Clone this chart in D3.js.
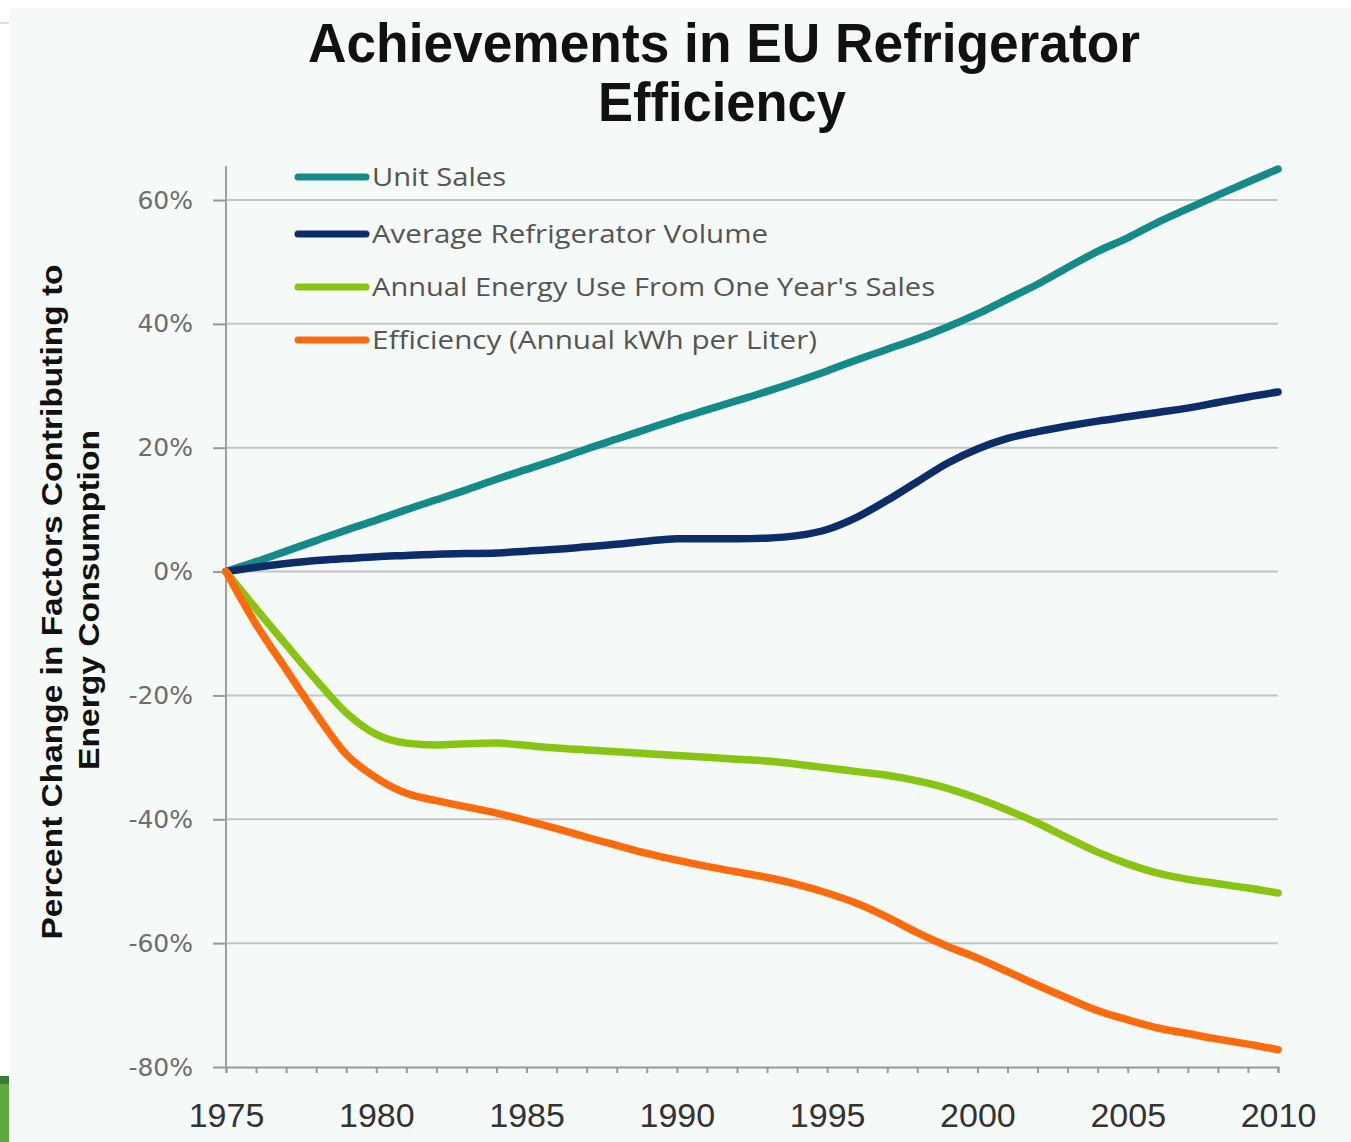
<!DOCTYPE html>
<html>
<head>
<meta charset="utf-8">
<script src="https://cdn.jsdelivr.net/npm/d3@7"></script>
<style>
  html, body { margin: 0; padding: 0; background: #fff; }
  svg { display: block; }
</style>
</head>
<body>
<svg id="chart" width="1351" height="1142"></svg>
<script>
// Data (percent change vs. 1975)
const years = d3.range(1975, 2011);
const unitSales = [0, 1.6, 3.3, 5.0, 6.7, 8.3, 10.0, 11.6, 13.2, 14.9, 16.5, 18.1, 19.8, 21.4, 23.0, 24.6, 26.1, 27.6, 29.1, 30.7,
  32.4, 34.2, 35.9, 37.6, 39.5, 41.6, 44.0, 46.4, 49.1, 51.7, 53.9, 56.4, 58.6, 60.8, 62.9, 65.0];
const avgVolume = [0, 0.7, 1.3, 1.8, 2.1, 2.4, 2.6, 2.8, 2.9, 3.0, 3.3, 3.6, 4.0, 4.4, 4.9, 5.3, 5.3, 5.3, 5.4, 5.8,
  6.8, 8.8, 11.5, 14.5, 17.5, 19.8, 21.5, 22.6, 23.5, 24.3, 25.0, 25.7, 26.4, 27.3, 28.2, 29.0];
const energyUse = [0, -6.0, -11.8, -17.5, -22.8, -26.3, -27.7, -28.0, -27.8, -27.7, -28.1, -28.5, -28.8, -29.1, -29.4, -29.7, -30.0, -30.3, -30.6, -31.1,
  -31.7, -32.3, -32.9, -33.8, -35.0, -36.6, -38.5, -40.6, -43.0, -45.3, -47.2, -48.7, -49.7, -50.4, -51.1, -51.9];
const efficiency = [0, -8.5, -15.8, -23.0, -29.5, -33.3, -35.8, -37.0, -38.0, -39.0, -40.2, -41.5, -42.9, -44.2, -45.5, -46.6, -47.6, -48.5, -49.4, -50.5,
  -51.9, -53.6, -55.8, -58.3, -60.5, -62.4, -64.6, -66.8, -68.9, -70.9, -72.4, -73.7, -74.6, -75.5, -76.3, -77.2];

const seriesNames = ["Unit Sales", "Average Refrigerator Volume", "Annual Energy Use From One Year's Sales", "Efficiency (Annual kWh per Liter)"];
const seriesColors = ["#148b88", "#0c2c6a", "#88c512", "#ff6a0d"];
const seriesValues = [unitSales, avgVolume, energyUse, efficiency];
const yTicks = [-80, -60, -40, -20, 0, 20, 40, 60];
const xLabelYears = [1975, 1980, 1985, 1990, 1995, 2000, 2005, 2010];

const svg = d3.select("#chart");

// page decorations around the slide
svg.append("rect").attr("x", 9).attr("y", 8).attr("width", 1342).attr("height", 1134).attr("fill", "#f5f9f7");
svg.append("line").attr("x1", 0).attr("x2", 9).attr("y1", 23).attr("y2", 23).attr("stroke", "#bbb").attr("stroke-width", 1);
svg.append("rect").attr("x", 0).attr("y", 1076).attr("width", 9).attr("height", 66).attr("fill", "#5ea83f");
svg.append("rect").attr("x", 0).attr("y", 1076).attr("width", 9).attr("height", 8).attr("fill", "#3d7a3a");

const x = d3.scaleLinear().domain([1975, 2010]).range([226, 1278]);
const y = d3.scaleLinear().domain([-80, 60]).range([1067, 200]);

// gridlines
svg.append("g")
  .selectAll("line")
  .data(yTicks.filter(d => d > -80))
  .join("line")
  .attr("x1", x(1975)).attr("x2", x(2010))
  .attr("y1", d => y(d)).attr("y2", d => y(d))
  .attr("stroke", "#c4c6c5").attr("stroke-width", 2);

// y axis
const yAxis = d3.axisLeft(y).tickValues(yTicks).tickSize(13).tickPadding(20).tickFormat(d => d + "%");
const gy = svg.append("g").attr("transform", `translate(${x(1975)},0)`).call(yAxis);
gy.select(".domain").remove();
gy.selectAll(".tick line").attr("stroke", "#999").attr("stroke-width", 2);
gy.selectAll("text")
  .attr("font-family", "DejaVu Sans, Verdana, sans-serif")
  .attr("font-size", 25)
  .attr("fill", "#6e6e6e");
svg.append("line")
  .attr("x1", x(1975)).attr("x2", x(1975))
  .attr("y1", y(65.5)).attr("y2", y(-80))
  .attr("stroke", "#a0a0a0").attr("stroke-width", 2);

// x axis
const xAxis = d3.axisBottom(x).tickValues(years).tickSize(6).tickPadding(30)
  .tickFormat(d => xLabelYears.includes(d) ? d : "");
const gx = svg.append("g").attr("transform", `translate(0,${y(-80)})`).call(xAxis);
gx.select(".domain").attr("stroke", "#999").attr("stroke-width", 2);
gx.selectAll(".tick line").attr("stroke", "#999").attr("stroke-width", 2);
gx.selectAll("text")
  .attr("font-family", "Liberation Sans, Arial, sans-serif")
  .attr("font-size", 34)
  .attr("fill", "#333");

// lines
const line = d3.line()
  .x((d, i) => x(years[i]))
  .y(d => y(d))
  .curve(d3.curveMonotoneX);

svg.append("g")
  .selectAll("path")
  .data(seriesValues)
  .join("path")
  .attr("d", d => line(d))
  .attr("fill", "none")
  .attr("stroke", (d, i) => seriesColors[i])
  .attr("stroke-width", 7.5)
  .attr("stroke-linecap", "round")
  .attr("stroke-linejoin", "round");

// legend
const legendY = [177, 234, 287, 340];
const legendW = [134, 396, 563, 445];
const legend = svg.append("g");
seriesNames.forEach((name, i) => {
  legend.append("line")
    .attr("x1", 298).attr("x2", 366)
    .attr("y1", legendY[i]).attr("y2", legendY[i])
    .attr("stroke", seriesColors[i]).attr("stroke-width", 7).attr("stroke-linecap", "round");
  legend.append("text")
    .attr("x", 372).attr("y", legendY[i] + 9)
    .attr("font-family", "Open Sans, sans-serif")
    .attr("font-size", 26)
    .attr("fill", "#555")
    .attr("textLength", legendW[i])
    .attr("lengthAdjust", "spacingAndGlyphs")
    .text(name);
});

// title
const title = svg.append("g")
  .attr("font-family", "Liberation Sans, Arial, sans-serif")
  .attr("font-weight", "bold")
  .attr("font-size", 56)
  .attr("fill", "#111")
  .attr("text-anchor", "middle");
title.append("text").attr("x", 724).attr("y", 62)
  .attr("textLength", 832).attr("lengthAdjust", "spacingAndGlyphs")
  .text("Achievements in EU Refrigerator");
title.append("text").attr("x", 722).attr("y", 121)
  .attr("textLength", 248).attr("lengthAdjust", "spacingAndGlyphs")
  .text("Efficiency");

// y axis title
const yTitle = svg.append("g")
  .attr("font-family", "Liberation Sans, Arial, sans-serif")
  .attr("font-weight", "bold")
  .attr("font-size", 30)
  .attr("fill", "#111")
  .attr("text-anchor", "middle");
yTitle.append("text")
  .attr("transform", "translate(62,602) rotate(-90)")
  .attr("textLength", 675).attr("lengthAdjust", "spacingAndGlyphs")
  .text("Percent Change in Factors Contributing to");
yTitle.append("text")
  .attr("transform", "translate(99,600) rotate(-90)")
  .attr("textLength", 340).attr("lengthAdjust", "spacingAndGlyphs")
  .text("Energy Consumption");
</script>
</body>
</html>
